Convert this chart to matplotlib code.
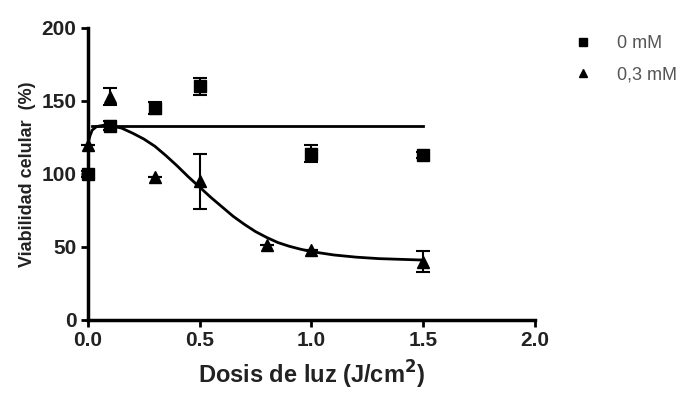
import matplotlib.pyplot as plt
from matplotlib.lines import Line2D

# 0 mM
dose_0 = [0.0, 0.1, 0.3, 0.5, 1.0, 1.5]
via_0 = [100, 133, 145, 160, 114, 113]
err_0 = [2, 3, 4, 6, 6, 2]

# 0,3 mM
dose_3 = [0.0, 0.1, 0.3, 0.5, 0.8, 1.0, 1.5]
via_3 = [120, 153, 98, 95, 51, 48, 40]
err_3 = [0, 6, 0, 19, 0, 0, 7]

# fitted curves
fit0_x = [0.02, 1.5]
fit0_y = [133, 133]
fit3_x = [0.0, 0.01, 0.02, 0.04, 0.07, 0.1, 0.15, 0.2, 0.25, 0.3, 0.35, 0.4, 0.45,
          0.5, 0.55, 0.6, 0.65, 0.7, 0.75, 0.8, 0.85, 0.9, 0.95, 1.0, 1.1, 1.2,
          1.3, 1.4, 1.5]
fit3_y = [120, 126, 130, 132.5, 133.3, 133, 131.5, 128, 124, 119, 112.5, 105.5, 98,
          91, 84, 77.5, 71, 65.5, 60.5, 56.5, 53, 50.5, 48.5, 46.8, 44.5, 43,
          42, 41.5, 41]

labels = ['0 mM', '0,3 mM']

plt.rcParams['font.family'] = ['Liberation Sans', 'DejaVu Sans']

fig = plt.figure(figsize=(6.96, 3.94), dpi=100)
ax = fig.add_axes([0.126, 0.188, 0.643, 0.741])

ax.plot(fit0_x, fit0_y, color='black', lw=2)
ax.plot(fit3_x, fit3_y, color='black', lw=2)

ax.errorbar(dose_0, via_0, yerr=err_0, fmt='s', color='black', ms=9,
            capsize=5, elinewidth=1.5, capthick=1.5, clip_on=False)
ax.errorbar(dose_3, via_3, yerr=err_3, fmt='^', color='black', ms=9,
            capsize=5, elinewidth=1.5, capthick=1.5, clip_on=False)

ax.set_xlim(0, 2.0)
ax.set_ylim(0, 200)
ax.set_xticks([0.0, 0.5, 1.0, 1.5, 2.0])
ax.set_xticklabels(['0.0', '0.5', '1.0', '1.5', '2.0'])
ax.set_yticks([0, 50, 100, 150, 200])

for s in ['top', 'right']:
    ax.spines[s].set_visible(False)
for s in ['left', 'bottom']:
    ax.spines[s].set_linewidth(2.5)
ax.tick_params(width=2, length=5, labelsize=15, pad=3)
for t in ax.get_xticklabels() + ax.get_yticklabels():
    t.set_fontweight('bold')
    t.set_color('#222222')

ax.set_xlabel('Dosis de luz (J/cm$^\\mathbf{2}$)', fontsize=17, fontweight='bold',
              color='#222222', labelpad=6)
ax.set_ylabel('Viabilidad celular  (%)', fontsize=13, fontweight='bold',
              color='#222222', labelpad=4)

handles = [Line2D([], [], ls='none', marker='s', color='black', ms=6),
           Line2D([], [], ls='none', marker='^', color='black', ms=6)]
leg = ax.legend(handles, labels, loc='upper left', bbox_to_anchor=(1.03, 1.03),
                frameon=False, fontsize=13, handletextpad=0.9, labelspacing=0.75)
for t in leg.get_texts():
    t.set_color('#555555')

fig.savefig('out.png', dpi=100)
